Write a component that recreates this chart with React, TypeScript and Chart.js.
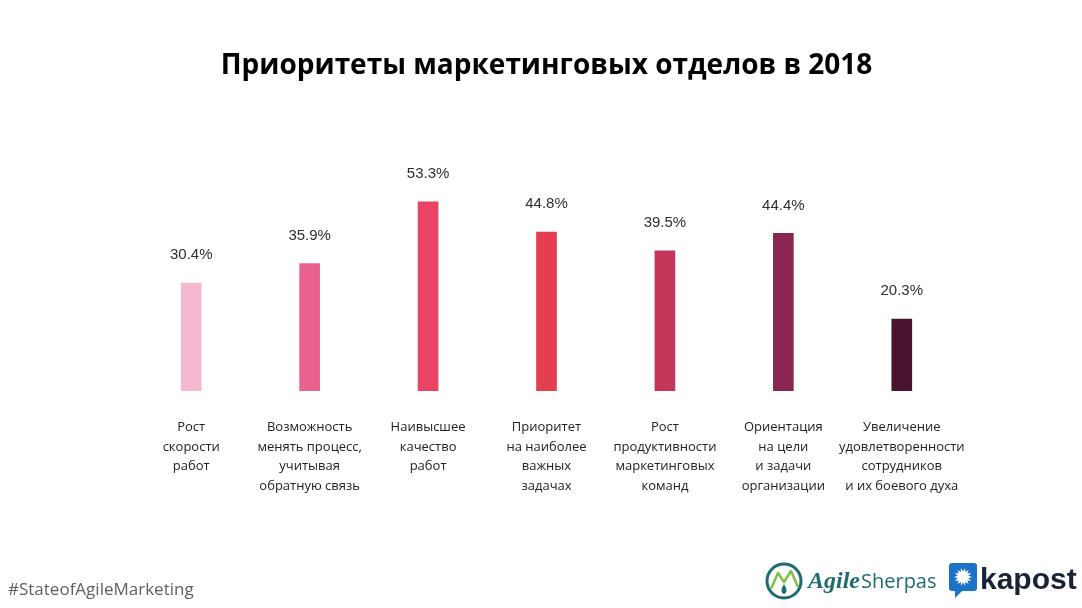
import React, { useEffect, useRef } from "react";
import { Chart, registerables } from "chart.js";

Chart.register(...registerables);

const titleText = "Приоритеты маркетинговых отделов в 2018";
const categories: string[][] = [
  ["Рост", "скорости", "работ"],
  ["Возможность", "менять процесс,", "учитывая", "обратную связь"],
  ["Наивысшее", "качество", "работ"],
  ["Приоритет", "на наиболее", "важных", "задачах"],
  ["Рост", "продуктивности", "маркетинговых", "команд"],
  ["Ориентация", "на цели", "и задачи", "организации"],
  ["Увеличение", "удовлетворенности", "сотрудников", "и их боевого духа"],
];
const values: number[] = [30.4, 35.9, 53.3, 44.8, 39.5, 44.4, 20.3];
const barColors: string[] = [
  "#F4B9D0",
  "#EA6190",
  "#E84466",
  "#E33F4E",
  "#C4375A",
  "#8A2650",
  "#4A142F",
];
const hashtag = "#StateofAgileMarketing";

const W = 1082;
const H = 608;

const valueLabelPlugin = {
  id: "valueLabels",
  afterDatasetsDraw(chart: any) {
    const ctx = chart.ctx;
    const meta = chart.getDatasetMeta(0);
    ctx.save();
    ctx.font = "15px 'Liberation Sans', Arial, sans-serif";
    ctx.fillStyle = "#2e2e2e";
    ctx.textAlign = "center";
    ctx.textBaseline = "middle";
    meta.data.forEach((bar: any, i: number) => {
      ctx.fillText(values[i].toFixed(1) + "%", bar.x, bar.y - 28);
    });
    ctx.restore();
  },
};

const footerPlugin = {
  id: "footer",
  afterDraw(chart: any) {
    const ctx = chart.ctx;
    ctx.save();
    // hashtag
    ctx.font = "17px 'Open Sans', sans-serif";
    ctx.fillStyle = "#5f5f5f";
    ctx.textAlign = "left";
    ctx.textBaseline = "middle";
    ctx.fillText(hashtag, 8, 590);

    // AgileSherpas icon
    const teal = "#1E6B70";
    const green = "#7CC242";
    ctx.lineWidth = 3;
    ctx.strokeStyle = teal;
    ctx.beginPath();
    ctx.arc(784, 581, 17, 0, Math.PI * 2);
    ctx.stroke();
    ctx.strokeStyle = green;
    ctx.lineWidth = 2.5;
    ctx.lineJoin = "round";
    ctx.beginPath();
    ctx.moveTo(771, 589);
    ctx.lineTo(778, 573);
    ctx.lineTo(784, 582);
    ctx.lineTo(791, 571);
    ctx.lineTo(798, 587);
    ctx.stroke();
    ctx.fillStyle = teal;
    ctx.beginPath();
    ctx.moveTo(784, 584);
    ctx.quadraticCurveTo(789, 592, 784, 594);
    ctx.quadraticCurveTo(779, 592, 784, 584);
    ctx.fill();

    // AgileSherpas text
    ctx.fillStyle = teal;
    ctx.textBaseline = "alphabetic";
    ctx.font = "italic bold 24px 'Liberation Serif', serif";
    ctx.fillText("Agile", 808, 588);
    const aw = ctx.measureText("Agile").width;
    ctx.font = "20px 'Open Sans', sans-serif";
    ctx.fillText("Sherpas", 808 + aw + 1, 588);

    // kapost icon
    const blue = "#1C72C6";
    ctx.fillStyle = blue;
    ctx.beginPath();
    ctx.moveTo(952, 563);
    ctx.lineTo(974, 563);
    ctx.quadraticCurveTo(977, 563, 977, 566);
    ctx.lineTo(977, 588);
    ctx.quadraticCurveTo(977, 591, 974, 591);
    ctx.lineTo(962, 591);
    ctx.lineTo(955, 598);
    ctx.lineTo(955, 591);
    ctx.lineTo(952, 591);
    ctx.quadraticCurveTo(949, 591, 949, 588);
    ctx.lineTo(949, 566);
    ctx.quadraticCurveTo(949, 563, 952, 563);
    ctx.fill();
    ctx.fillStyle = "#ffffff";
    ctx.beginPath();
    const cx = 963, cy = 577, n = 14;
    for (let k = 0; k < n * 2; k++) {
      const r = k % 2 === 0 ? 9 : 5.5;
      const a = (k * Math.PI) / n;
      const px = cx + r * Math.cos(a);
      const py = cy + r * Math.sin(a);
      if (k === 0) ctx.moveTo(px, py);
      else ctx.lineTo(px, py);
    }
    ctx.closePath();
    ctx.fill();

    // kapost text
    ctx.fillStyle = "#1A2238";
    ctx.font = "bold 30px 'Liberation Sans', Arial, sans-serif";
    ctx.fillText("kapost", 980, 589);
    ctx.restore();
  },
};

export default function App() {
  const canvasRef = useRef<HTMLCanvasElement | null>(null);

  useEffect(() => {
    if (!canvasRef.current) return;
    const chart = new Chart(canvasRef.current, {
      type: "bar",
      data: {
        labels: categories,
        datasets: [
          {
            data: values,
            backgroundColor: barColors,
            borderWidth: 0,
            barThickness: 20,
          },
        ],
      },
      options: {
        responsive: false,
        animation: false,
        devicePixelRatio: 1,
        layout: { padding: { left: 132, right: 121, top: 0, bottom: 0 } },
        plugins: {
          legend: { display: false },
          tooltip: { enabled: false },
          title: {
            display: true,
            text: titleText,
            color: "#000000",
            font: { family: "'Open Sans', sans-serif", size: 28, weight: "bold", lineHeight: 1.2 },
            padding: { top: 49, bottom: 60 },
          },
        },
        scales: {
          x: {
            grid: { display: false, drawTicks: false },
            border: { display: false },
            ticks: {
              color: "#222222",
              font: { family: "'Open Sans', sans-serif", size: 13, lineHeight: 1.5 },
              padding: 27,
              maxRotation: 0,
              autoSkip: false,
            },
            afterFit(scale: any) {
              scale.height = H - 391;
            },
          },
          y: {
            display: false,
            min: 0,
            max: 70,
          },
        },
      },
      plugins: [valueLabelPlugin, footerPlugin],
    } as any);
    return () => chart.destroy();
  }, []);

  return (
    <div style={{ position: "absolute", left: 0, top: 0, width: W, height: H, background: "#ffffff" }}>
      <canvas ref={canvasRef} width={W} height={H} style={{ width: W, height: H, display: "block" }} />
    </div>
  );
}
